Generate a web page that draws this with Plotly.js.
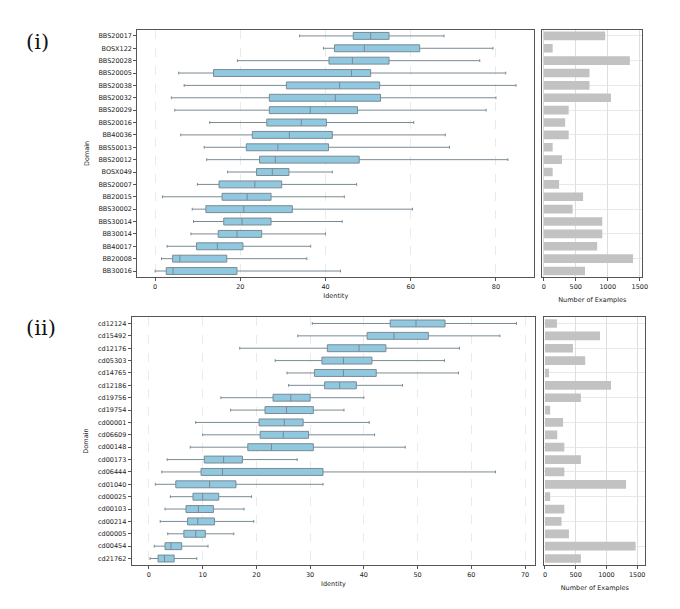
<!DOCTYPE html>
<html>
<head>
<meta charset="utf-8">
<script src="https://cdn.plot.ly/plotly-3.0.1.min.js"></script>
<style>
  body { margin: 0; background: #fff; }
  #chart { width: 680px; height: 609px; }
</style>
</head>
<body>
<div id="chart"></div>
<script>
// panel (i) - BBS / BOSX domains
var domainsA = ['BBS20017', 'BOSX122', 'BBS20028', 'BBS20005', 'BBS20038', 'BBS20032', 'BBS20029', 'BBS20016', 'BB40036', 'BBS50013',
  'BBS20012', 'BOSX049', 'BBS20007', 'BB20015', 'BBS30002', 'BBS30014', 'BB30014', 'BB40017', 'BB20008', 'BB30016'];
var lowA = [33.9, 39.5, 19.3, 5.5, 6.8, 3.8, 4.6, 12.8, 6.0, 11.5, 12.1, 17.0, 9.9, 1.7, 8.7, 9.0, 8.4, 2.8, 1.5, 0];
var q1A = [46.5, 42.1, 40.8, 13.7, 30.8, 26.8, 26.8, 26.2, 22.8, 21.4, 24.5, 23.8, 15.0, 15.7, 11.9, 16.1, 14.8, 9.7, 4.1, 2.6];
var medA = [50.6, 49.1, 46.3, 46.1, 43.3, 42.3, 36.4, 34.3, 31.5, 28.8, 28.2, 27.5, 23.4, 21.6, 20.8, 20.4, 19.2, 14.6, 5.8, 4.2];
var q3A = [54.9, 62.1, 54.9, 50.6, 52.7, 52.9, 47.5, 40.2, 41.6, 40.7, 47.9, 31.4, 29.7, 27.2, 32.2, 27.2, 25.0, 20.6, 16.8, 19.2];
var highA = [67.8, 79.3, 76.2, 82.3, 84.7, 80.0, 77.7, 60.7, 68.1, 69.1, 82.8, 41.6, 47.3, 44.4, 60.4, 43.9, 40.0, 36.5, 35.6, 43.5];
var countsA = [960, 140, 1345, 715, 715, 1050, 390, 335, 390, 140, 285, 140, 240, 615, 450, 915, 915, 835, 1395, 645];

// panel (ii) - cd domains
var domainsB = ['cd12124', 'cd15492', 'cd12176', 'cd05303', 'cd14765', 'cd12186', 'cd19756', 'cd19754', 'cd00001', 'cd06609',
  'cd00148', 'cd00173', 'cd06444', 'cd01040', 'cd00025', 'cd00103', 'cd00214', 'cd00005', 'cd00454', 'cd21762'];
var lowB = [30.4, 27.7, 16.9, 23.5, 25.7, 26.0, 13.4, 15.2, 8.7, 10.0, 7.7, 3.4, 2.4, 1.2, 4.0, 3.0, 2.1, 3.5, 1.0, 0.2];
var q1B = [44.9, 40.6, 33.2, 32.2, 30.8, 32.7, 23.1, 21.6, 20.5, 20.7, 18.4, 10.3, 9.7, 5.0, 8.2, 6.9, 7.2, 6.5, 3.0, 1.7];
var medB = [49.7, 45.6, 39.1, 36.2, 36.2, 35.5, 26.4, 25.6, 25.2, 25.0, 22.8, 13.9, 13.7, 11.3, 10.0, 9.2, 9.1, 8.7, 4.1, 2.9];
var q3B = [55.1, 52.0, 44.1, 41.5, 42.3, 38.6, 30.0, 30.6, 28.7, 29.7, 30.6, 17.4, 32.4, 16.2, 13.0, 12.0, 12.2, 10.5, 6.1, 4.7];
var highB = [68.4, 65.3, 57.8, 55.0, 57.6, 47.2, 40.0, 36.3, 41.0, 42.0, 47.7, 27.6, 64.5, 32.4, 19.1, 17.7, 19.5, 15.8, 11.0, 8.9];
var countsB = [195, 895, 455, 655, 65, 1075, 585, 85, 295, 200, 315, 585, 315, 1320, 85, 315, 270, 390, 1475, 585];

var boxFill = '#90c8df',
  boxLine = '#7b8a93',
  barColor = '#c2c2c2',
  frameColor = '#555555',
  tickFont = { family: 'DejaVu Sans', size: 6.5, color: '#222' };

function boxTrace(doms, lo, q1, med, q3, hi, xa, ya) {
  return {
    type: 'box',
    orientation: 'h',
    y: doms,
    lowerfence: lo,
    q1: q1,
    median: med,
    q3: q3,
    upperfence: hi,
    boxpoints: false,
    whiskerwidth: 0.4,
    fillcolor: boxFill,
    line: { color: boxLine, width: 1 },
    xaxis: xa,
    yaxis: ya,
    showlegend: false,
    hoverinfo: 'skip',
  };
}

function barTrace(doms, counts, xa, ya) {
  return {
    type: 'bar',
    orientation: 'h',
    y: doms,
    x: counts,
    marker: { color: barColor },
    xaxis: xa,
    yaxis: ya,
    showlegend: false,
  };
}

var data = [
  boxTrace(domainsA, lowA, q1A, medA, q3A, highA, 'x', 'y'),
  barTrace(domainsA, countsA, 'x2', 'y2'),
  boxTrace(domainsB, lowB, q1B, medB, q3B, highB, 'x3', 'y3'),
  barTrace(domainsB, countsB, 'x4', 'y4'),
];

// NOTE: shared look for the two kinds of panels
function boxX(dom, rng, anchor, dtick) {
  return {
    domain: dom, anchor: anchor, range: rng, dtick: dtick,
    showline: true, mirror: true, linecolor: frameColor, linewidth: 1,
    ticks: 'outside', ticklen: 3, tickcolor: frameColor, tickfont: tickFont,
    showgrid: true, gridcolor: '#dcdcdc', griddash: 'dash', gridwidth: 0.6,
    zeroline: false,
    title: { text: 'Identity', font: tickFont, standoff: 3 },
  };
}
function boxY(dom, cats, anchor) {
  return {
    domain: dom, anchor: anchor, type: 'category',
    categoryorder: 'array', categoryarray: cats, range: [19.5, -0.5],
    showline: true, mirror: true, linecolor: frameColor, linewidth: 1,
    ticks: 'outside', ticklen: 3, tickcolor: frameColor, tickfont: tickFont,
    showgrid: false, zeroline: false,
    title: { text: 'Domain', font: tickFont, standoff: 8 },
  };
}
function barX(dom, rng, anchor) {
  return {
    domain: dom, anchor: anchor, range: rng, tickvals: [0, 500, 1000, 1500],
    showline: true, mirror: true, linecolor: frameColor, linewidth: 1,
    ticks: 'outside', ticklen: 3, tickcolor: frameColor, tickfont: tickFont,
    showgrid: true, gridcolor: '#d6d6d6', gridwidth: 0.8,
    zeroline: false,
    title: { text: 'Number of Examples', font: tickFont, standoff: 7 },
  };
}
function barY(dom, cats, anchor) {
  return {
    domain: dom, anchor: anchor, type: 'category',
    categoryorder: 'array', categoryarray: cats, range: [19.5, -0.5],
    showline: true, mirror: true, linecolor: frameColor, linewidth: 1,
    showticklabels: false, ticks: '',
    showgrid: true, gridcolor: '#e2e2e2', gridwidth: 0.8, zeroline: false,
  };
}

var layout = {
  width: 680,
  height: 609,
  margin: { l: 0, r: 0, t: 0, b: 0 },
  paper_bgcolor: '#ffffff',
  plot_bgcolor: '#ffffff',
  font: { family: 'DejaVu Sans', size: 7, color: '#222' },
  boxgap: 0.2,
  bargap: 0.3,
  xaxis: boxX([0.2019, 0.7857], [-4.2, 89], 'y', 20),
  yaxis: boxY([0.5448, 0.9512], domainsA, 'x'),
  xaxis2: barX([0.7975, 0.9446], [-22, 1540], 'y2'),
  yaxis2: barY([0.5448, 0.9512], domainsA, 'x2'),
  xaxis3: boxX([0.1937, 0.7872], [-3.2, 71.9], 'y3', 10),
  yaxis3: boxY([0.0727, 0.479], domainsB, 'x3'),
  xaxis4: barX([0.8004, 0.949], [-11, 1633], 'y4'),
  yaxis4: barY([0.0727, 0.479], domainsB, 'x4'),
  annotations: [
    {
      text: '(i)', xref: 'paper', yref: 'paper', x: 0.036, y: 0.931,
      xanchor: 'left', yanchor: 'middle', showarrow: false,
      font: { family: 'DejaVu Serif', size: 21, color: '#111' },
    },
    {
      text: '(ii)', xref: 'paper', yref: 'paper', x: 0.036, y: 0.462,
      xanchor: 'left', yanchor: 'middle', showarrow: false,
      font: { family: 'DejaVu Serif', size: 21, color: '#111' },
    },
  ],
};

var config = { displayModeBar: false, staticPlot: true };

Plotly.newPlot('chart', data, layout, config);
</script>
</body>
</html>
